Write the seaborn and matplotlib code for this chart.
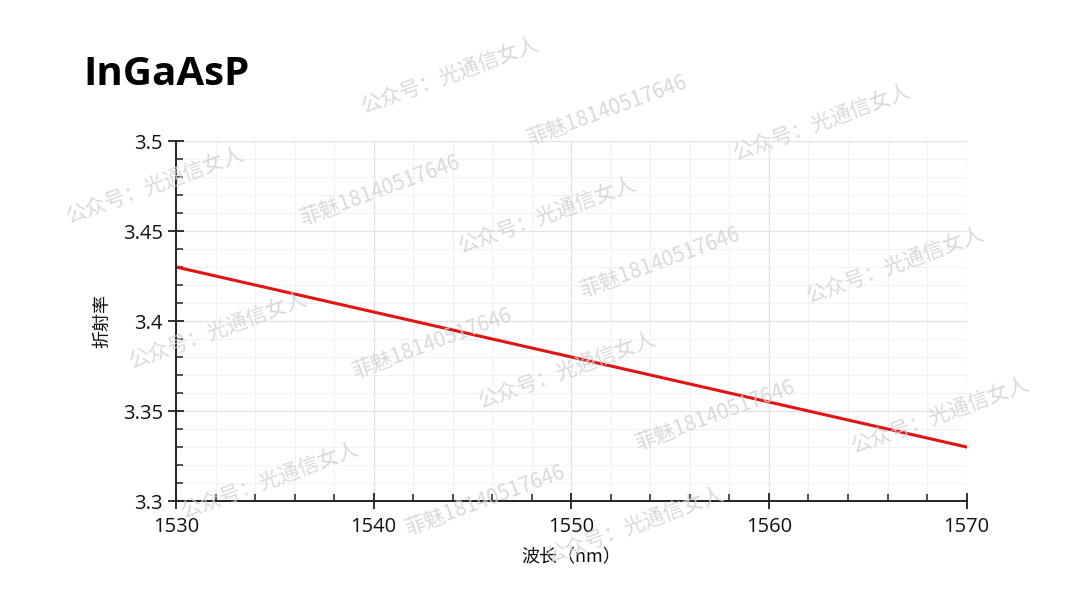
import numpy as np
import pandas as pd
import seaborn as sns
import matplotlib.pyplot as plt
from matplotlib.ticker import MultipleLocator

# 数据：波长 (nm) 与折射率
wavelength = [1530, 1540, 1550, 1560, 1570]
index_n = [3.430, 3.405, 3.380, 3.355, 3.330]

x_ticks = [1530, 1540, 1550, 1560, 1570]
y_ticks = [3.3, 3.35, 3.4, 3.45, 3.5]
y_tick_labels = ["3.3", "3.35", "3.4", "3.45", "3.5"]

# 水印文字
wm_a = "公众号：光通信女人"
wm_b = "菲魅18140517646"

df = pd.DataFrame({"wl": wavelength, "n": index_n})

sns.set_theme(style="white")
plt.rcParams['font.family'] = ['Open Sans', 'Noto Sans CJK SC', 'DejaVu Sans']

fig = plt.figure(figsize=(10.8, 6.07), dpi=100)
ax = fig.add_axes([0.163, 0.1746, 0.732, 0.5931])

sns.lineplot(data=df, x="wl", y="n", color="#e01414", linewidth=2.2, ax=ax)

ax.set_xlim(1530, 1570)
ax.set_ylim(3.3, 3.5)
ax.set_xticks(x_ticks)
ax.set_yticks(y_ticks)
ax.set_yticklabels(y_tick_labels)
ax.xaxis.set_minor_locator(MultipleLocator(2))
ax.yaxis.set_minor_locator(MultipleLocator(0.01))

ax.grid(which="major", color="#e2e2e2", linewidth=0.9)
ax.grid(which="minor", color="#f2f2f2", linewidth=0.8)
ax.set_axisbelow(True)

for s in ["top", "right"]:
    ax.spines[s].set_visible(False)
for s in ["left", "bottom"]:
    ax.spines[s].set_color("#222222")
    ax.spines[s].set_linewidth(1.4)

ax.tick_params(which="both", bottom=True, left=True)
ax.tick_params(which="major", direction="inout", length=11, width=1.3,
               color="#222222", labelsize=14.5, labelcolor="#111111", pad=4)
ax.tick_params(which="minor", direction="in", length=5, width=1.1, color="#222222")
ax.tick_params(axis="x", which="major", pad=6)

ax.set_xlabel("波长（nm）", fontsize=13, color="#111111", labelpad=8,
              family=['Noto Sans CJK SC', 'DejaVu Sans'])
ax.set_ylabel("折射率", fontsize=13, color="#111111", labelpad=8,
              family=['Noto Sans CJK SC', 'DejaVu Sans'])

fig.text(0.077, 0.86, "InGaAsP", fontsize=29, fontweight="bold", color="black",
         family=['Open Sans', 'DejaVu Sans'])

# 水印
wm_pos = [
    (450, 75, wm_a), (607, 110, wm_b), (822, 122, wm_a),
    (155, 185, wm_a), (380, 190, wm_b), (547, 215, wm_a),
    (660, 262, wm_b), (895, 265, wm_a), (218, 330, wm_a),
    (432, 343, wm_b), (567, 370, wm_a), (715, 415, wm_b),
    (940, 415, wm_a), (270, 480, wm_a), (485, 500, wm_b),
    (635, 525, wm_a),
]
for px, py, t in wm_pos:
    fig.text(px / 1080, 1 - py / 607, t, fontsize=15, color="#d0d0d0", alpha=0.8,
             rotation=20, ha="center", va="center",
             family=['Noto Sans CJK SC', 'DejaVu Sans'])

fig.savefig("out.png", dpi=100)
